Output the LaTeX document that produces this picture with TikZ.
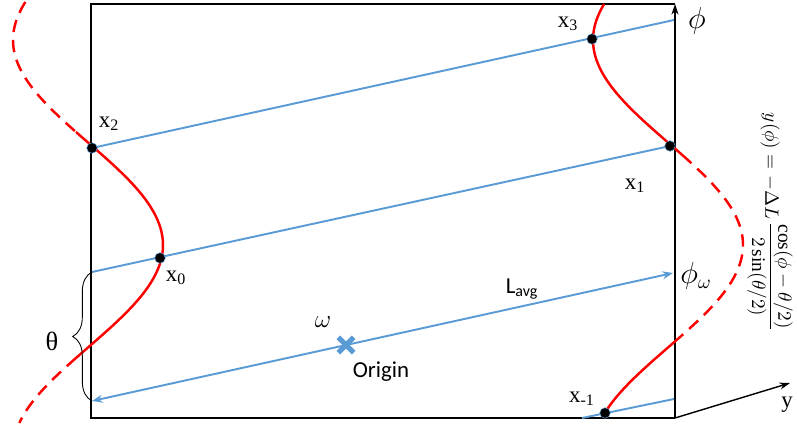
\documentclass[tikz,border=0pt]{standalone}
\usepackage{amsmath}
\usepackage{fontspec}
\setmainfont{Liberation Serif}
\newfontfamily\calibri{Carlito}
\usetikzlibrary{arrows.meta, decorations.pathreplacing, shapes.misc}
\definecolor{lineblue}{RGB}{91, 155, 213}
\definecolor{curvered}{RGB}{255, 0, 0}

\begin{document}
\begin{tikzpicture}[x=0.02cm, y=-0.02cm,
    blueline/.style={lineblue, line width=1.1pt},
    redcurve/.style={curvered, line width=1.4pt, smooth, samples=60, variable=\t},
    reddash/.style={redcurve, dash pattern=on 7pt off 4.5pt},
    dot/.style={circle, fill=black, draw=lineblue, line width=0.3pt, inner sep=0pt, minimum size=0.21cm},
    lbl/.style={font=\fontsize{13}{15}\selectfont},
    mathlbl/.style={font=\fontsize{16}{18}\selectfont},
    sanslbl/.style={font=\calibri\fontsize{13}{15}\selectfont}]

  \useasboundingbox (0, 0) rectangle (797, 425);

  % box, phi axis and y axis
  \coordinate (bl) at (91, 418);
  \coordinate (br) at (675, 418);
  \coordinate (tl) at (91, 4);
  \coordinate (tr) at (675, 4);
  \coordinate (yend) at (790, 383);
  \draw[line width=1pt] (tr) -- (tl) -- (bl) -- (br);
  \draw[-{Stealth[length=6pt, width=4pt]}, line width=1pt] (br) -- (tr);
  \draw[-{Stealth[length=6pt, width=4pt]}, line width=0.8pt] (br) -- (yend);

  % red curve, left copy
  \draw[reddash, domain=2:132]   plot ({88 - 75*cos((\t-40)/410*360)}, {\t});
  \draw[redcurve, domain=132:358] plot ({88 - 75*cos((\t-40)/410*360)}, {\t});
  \draw[reddash, domain=358:423] plot ({88 - 75*cos((\t-40)/410*360)}, {\t});

  % red curve, right copy
  \draw[redcurve, domain=4:155]   plot ({668 - 75*cos((\t-40)/410*360)}, {\t});
  \draw[reddash, domain=155:336] plot ({668 - 75*cos((\t-40)/410*360)}, {\t});
  \draw[redcurve, domain=336:413] plot ({668 - 75*cos((\t-40)/410*360)}, {\t});

  % blue lines
  \coordinate (p2) at (92, 148);
  \coordinate (e3) at (674, 20);
  \coordinate (s1) at (92, 272);
  \coordinate (p1) at (670, 146);
  \coordinate (s0) at (92, 401);
  \coordinate (pw) at (673, 273);
  \coordinate (sm) at (582, 418);
  \coordinate (em) at (674, 399);
  \draw[blueline] (p2) -- (e3);
  \draw[blueline] (s1) -- (p1);
  \draw[blueline, {Stealth[length=6pt, width=4.5pt]}-{Stealth[length=6pt, width=4.5pt]}] (s0) -- (pw);
  \draw[blueline] (sm) -- (em);

  % crossing points
  \node[dot] (x2) at (p2) {};
  \node[dot] (x0) at (160, 258) {};
  \node[dot] (x1) at (p1) {};
  \node[dot] (x3) at (592, 39) {};
  \node[dot] (xm) at (605, 413) {};

  \node[lbl] (lx2) at (109, 124) {x\textsubscript{2}};
  \node[lbl] (lx0) at (176, 278) {x\textsubscript{0}};
  \node[lbl] (lx1) at (635, 186) {x\textsubscript{1}};
  \node[lbl] (lx3) at (568, 24) {x\textsubscript{3}};
  \node[lbl] (lxm) at (582, 399) {x\textsubscript{-1}};

  % origin
  \node[cross out, draw=lineblue, line width=3pt, minimum size=0.2cm, inner sep=0pt] (orig) at (346, 345) {};
  \node[font=\fontsize{14}{16}\selectfont] (om) at (323, 322) {$\omega$};
  \node[sanslbl] (otext) at (381, 372) {Origin};
  \node[sanslbl] (lavg) at (522, 289) {L\textsubscript{avg}};

  % angle theta
  \draw[decorate, decoration={brace, amplitude=11pt}, line width=0.5pt] (s0) -- (s1);
  \node[font=\fontsize{15}{17}\selectfont] (th) at (52, 341) {θ};

  % axis labels
  \node[mathlbl] (phi) at (697, 21) {$\phi$};
  \node[mathlbl] (phiw) at (696, 276) {$\phi_\omega$};
  \node[lbl] (ylbl) at (787, 405) {y};

  % formula
  \node[rotate=-90, font=\fontsize{11}{13}\selectfont] (formula) at (770, 222)
    {$y(\phi) = -\Delta L\,\dfrac{\cos(\phi-\theta/2)}{2\sin(\theta/2)}$};

\end{tikzpicture}
\end{document}
